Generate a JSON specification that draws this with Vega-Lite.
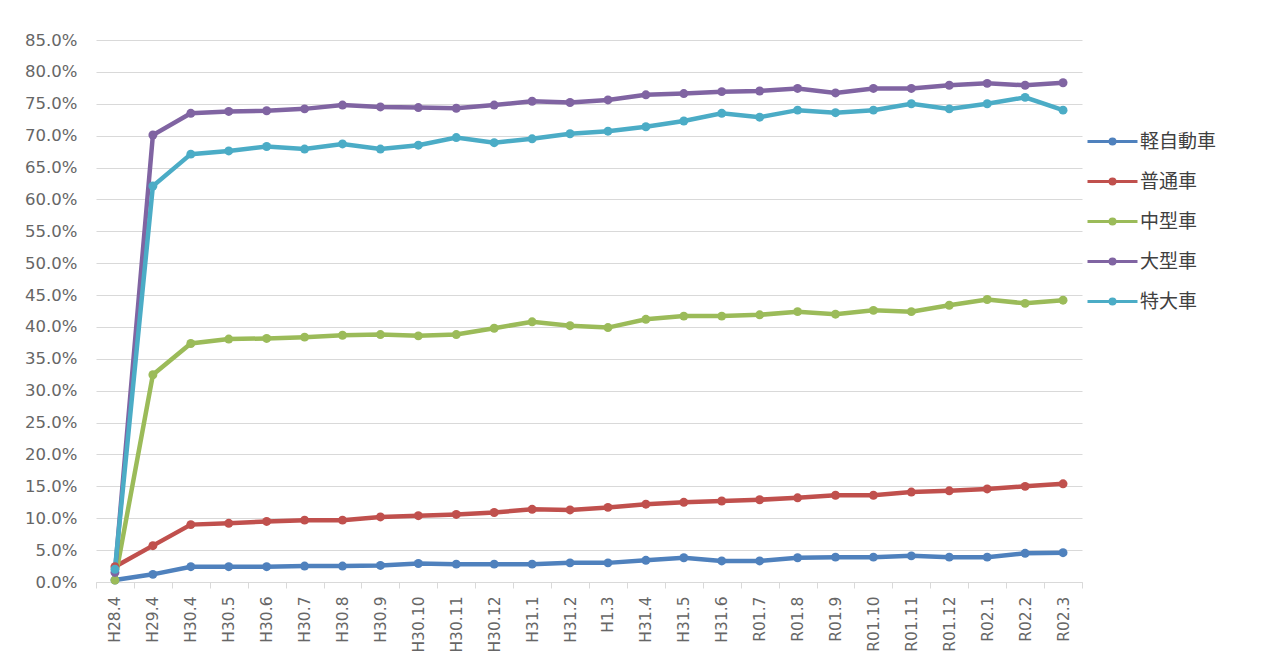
{
  "$schema": "https://vega.github.io/schema/vega-lite/v6.json",
  "width": 986,
  "height": 542,
  "autosize": "none",
  "padding": {"left": 96, "top": 40, "right": 185, "bottom": 84},
  "background": "white",
  "config": {
    "view": {"stroke": null},
    "font": "DejaVu Sans"
  },
  "data": {
    "values": [
      {"m":"H28.4","t":"軽自動車","v":0.3},{"m":"H28.4","t":"普通車","v":2.4},{"m":"H28.4","t":"中型車","v":0.3},{"m":"H28.4","t":"大型車","v":1.5},{"m":"H28.4","t":"特大車","v":2.0},
      {"m":"H29.4","t":"軽自動車","v":1.2},{"m":"H29.4","t":"普通車","v":5.7},{"m":"H29.4","t":"中型車","v":32.5},{"m":"H29.4","t":"大型車","v":70.1},{"m":"H29.4","t":"特大車","v":62.1},
      {"m":"H30.4","t":"軽自動車","v":2.4},{"m":"H30.4","t":"普通車","v":9.0},{"m":"H30.4","t":"中型車","v":37.4},{"m":"H30.4","t":"大型車","v":73.5},{"m":"H30.4","t":"特大車","v":67.1},
      {"m":"H30.5","t":"軽自動車","v":2.4},{"m":"H30.5","t":"普通車","v":9.2},{"m":"H30.5","t":"中型車","v":38.1},{"m":"H30.5","t":"大型車","v":73.8},{"m":"H30.5","t":"特大車","v":67.6},
      {"m":"H30.6","t":"軽自動車","v":2.4},{"m":"H30.6","t":"普通車","v":9.5},{"m":"H30.6","t":"中型車","v":38.2},{"m":"H30.6","t":"大型車","v":73.9},{"m":"H30.6","t":"特大車","v":68.3},
      {"m":"H30.7","t":"軽自動車","v":2.5},{"m":"H30.7","t":"普通車","v":9.7},{"m":"H30.7","t":"中型車","v":38.4},{"m":"H30.7","t":"大型車","v":74.2},{"m":"H30.7","t":"特大車","v":67.9},
      {"m":"H30.8","t":"軽自動車","v":2.5},{"m":"H30.8","t":"普通車","v":9.7},{"m":"H30.8","t":"中型車","v":38.7},{"m":"H30.8","t":"大型車","v":74.8},{"m":"H30.8","t":"特大車","v":68.7},
      {"m":"H30.9","t":"軽自動車","v":2.6},{"m":"H30.9","t":"普通車","v":10.2},{"m":"H30.9","t":"中型車","v":38.8},{"m":"H30.9","t":"大型車","v":74.5},{"m":"H30.9","t":"特大車","v":67.9},
      {"m":"H30.10","t":"軽自動車","v":2.9},{"m":"H30.10","t":"普通車","v":10.4},{"m":"H30.10","t":"中型車","v":38.6},{"m":"H30.10","t":"大型車","v":74.4},{"m":"H30.10","t":"特大車","v":68.5},
      {"m":"H30.11","t":"軽自動車","v":2.8},{"m":"H30.11","t":"普通車","v":10.6},{"m":"H30.11","t":"中型車","v":38.8},{"m":"H30.11","t":"大型車","v":74.3},{"m":"H30.11","t":"特大車","v":69.7},
      {"m":"H30.12","t":"軽自動車","v":2.8},{"m":"H30.12","t":"普通車","v":10.9},{"m":"H30.12","t":"中型車","v":39.8},{"m":"H30.12","t":"大型車","v":74.8},{"m":"H30.12","t":"特大車","v":68.9},
      {"m":"H31.1","t":"軽自動車","v":2.8},{"m":"H31.1","t":"普通車","v":11.4},{"m":"H31.1","t":"中型車","v":40.8},{"m":"H31.1","t":"大型車","v":75.4},{"m":"H31.1","t":"特大車","v":69.5},
      {"m":"H31.2","t":"軽自動車","v":3.0},{"m":"H31.2","t":"普通車","v":11.3},{"m":"H31.2","t":"中型車","v":40.2},{"m":"H31.2","t":"大型車","v":75.2},{"m":"H31.2","t":"特大車","v":70.3},
      {"m":"H1.3","t":"軽自動車","v":3.0},{"m":"H1.3","t":"普通車","v":11.7},{"m":"H1.3","t":"中型車","v":39.9},{"m":"H1.3","t":"大型車","v":75.6},{"m":"H1.3","t":"特大車","v":70.7},
      {"m":"H31.4","t":"軽自動車","v":3.4},{"m":"H31.4","t":"普通車","v":12.2},{"m":"H31.4","t":"中型車","v":41.2},{"m":"H31.4","t":"大型車","v":76.4},{"m":"H31.4","t":"特大車","v":71.4},
      {"m":"H31.5","t":"軽自動車","v":3.8},{"m":"H31.5","t":"普通車","v":12.5},{"m":"H31.5","t":"中型車","v":41.7},{"m":"H31.5","t":"大型車","v":76.6},{"m":"H31.5","t":"特大車","v":72.3},
      {"m":"H31.6","t":"軽自動車","v":3.3},{"m":"H31.6","t":"普通車","v":12.7},{"m":"H31.6","t":"中型車","v":41.7},{"m":"H31.6","t":"大型車","v":76.9},{"m":"H31.6","t":"特大車","v":73.5},
      {"m":"R01.7","t":"軽自動車","v":3.3},{"m":"R01.7","t":"普通車","v":12.9},{"m":"R01.7","t":"中型車","v":41.9},{"m":"R01.7","t":"大型車","v":77.0},{"m":"R01.7","t":"特大車","v":72.9},
      {"m":"R01.8","t":"軽自動車","v":3.8},{"m":"R01.8","t":"普通車","v":13.2},{"m":"R01.8","t":"中型車","v":42.4},{"m":"R01.8","t":"大型車","v":77.4},{"m":"R01.8","t":"特大車","v":74.0},
      {"m":"R01.9","t":"軽自動車","v":3.9},{"m":"R01.9","t":"普通車","v":13.6},{"m":"R01.9","t":"中型車","v":42.0},{"m":"R01.9","t":"大型車","v":76.7},{"m":"R01.9","t":"特大車","v":73.6},
      {"m":"R01.10","t":"軽自動車","v":3.9},{"m":"R01.10","t":"普通車","v":13.6},{"m":"R01.10","t":"中型車","v":42.6},{"m":"R01.10","t":"大型車","v":77.4},{"m":"R01.10","t":"特大車","v":74.0},
      {"m":"R01.11","t":"軽自動車","v":4.1},{"m":"R01.11","t":"普通車","v":14.1},{"m":"R01.11","t":"中型車","v":42.4},{"m":"R01.11","t":"大型車","v":77.4},{"m":"R01.11","t":"特大車","v":75.0},
      {"m":"R01.12","t":"軽自動車","v":3.9},{"m":"R01.12","t":"普通車","v":14.3},{"m":"R01.12","t":"中型車","v":43.4},{"m":"R01.12","t":"大型車","v":77.9},{"m":"R01.12","t":"特大車","v":74.2},
      {"m":"R02.1","t":"軽自動車","v":3.9},{"m":"R02.1","t":"普通車","v":14.6},{"m":"R02.1","t":"中型車","v":44.3},{"m":"R02.1","t":"大型車","v":78.2},{"m":"R02.1","t":"特大車","v":75.0},
      {"m":"R02.2","t":"軽自動車","v":4.5},{"m":"R02.2","t":"普通車","v":15.0},{"m":"R02.2","t":"中型車","v":43.7},{"m":"R02.2","t":"大型車","v":77.9},{"m":"R02.2","t":"特大車","v":76.0},
      {"m":"R02.3","t":"軽自動車","v":4.6},{"m":"R02.3","t":"普通車","v":15.4},{"m":"R02.3","t":"中型車","v":44.2},{"m":"R02.3","t":"大型車","v":78.3},{"m":"R02.3","t":"特大車","v":74.0}
    ]
  },
  "mark": {"type": "line", "strokeWidth": 4.5, "point": {"filled": true, "size": 80}},
  "encoding": {
    "x": {
      "field": "m",
      "type": "nominal",
      "sort": ["H28.4","H29.4","H30.4","H30.5","H30.6","H30.7","H30.8","H30.9","H30.10","H30.11","H30.12","H31.1","H31.2","H1.3","H31.4","H31.5","H31.6","R01.7","R01.8","R01.9","R01.10","R01.11","R01.12","R02.1","R02.2","R02.3"],
      "scale": {"type": "band", "paddingInner": 0, "paddingOuter": 0},
      "axis": {
        "title": null,
        "labelAngle": -90,
        "labelFont": "DejaVu Sans",
        "labelFontSize": 15.5,
        "labelColor": "#666666",
        "labelPadding": 8,
        "tickBand": "extent",
        "tickColor": "#d9d9d9",
        "tickSize": 6,
        "domainColor": "#d9d9d9",
        "grid": false
      }
    },
    "y": {
      "field": "v",
      "type": "quantitative",
      "scale": {"domain": [0, 85], "nice": false},
      "axis": {
        "title": null,
        "values": [0,5,10,15,20,25,30,35,40,45,50,55,60,65,70,75,80,85],
        "labelExpr": "format(datum.value, '.1f') + '%'",
        "labelFont": "DejaVu Sans",
        "labelFontSize": 16.5,
        "labelColor": "#666666",
        "labelPadding": 19,
        "ticks": false,
        "domain": false,
        "grid": true,
        "gridColor": "#d9d9d9",
        "gridWidth": 1
      }
    },
    "color": {
      "field": "t",
      "type": "nominal",
      "scale": {
        "domain": ["軽自動車","普通車","中型車","大型車","特大車"],
        "range": ["#4F81BD","#C0504D","#9BBB59","#8064A2","#4BACC6"]
      },
      "legend": {
        "title": null,
        "orient": "none",
        "legendX": 990,
        "legendY": 75,
        "padding": 0,
        "symbolType": "M-1,0L1,0M-0.1,0A0.1,0.1 0 1,1 0.1,0A0.1,0.1 0 1,1 -0.1,0Z",
        "symbolSize": 2500,
        "symbolStrokeWidth": 3,
        "rowPadding": 3,
        "labelOffset": 1,
        "labelFont": "Noto Sans CJK JP",
        "labelFontSize": 19,
        "labelColor": "#404040",
        "encode": {
          "symbols": {
            "update": {
              "fill": {"scale": "color", "field": "value"},
              "stroke": {"scale": "color", "field": "value"}
            }
          }
        }
      }
    }
  }
}
